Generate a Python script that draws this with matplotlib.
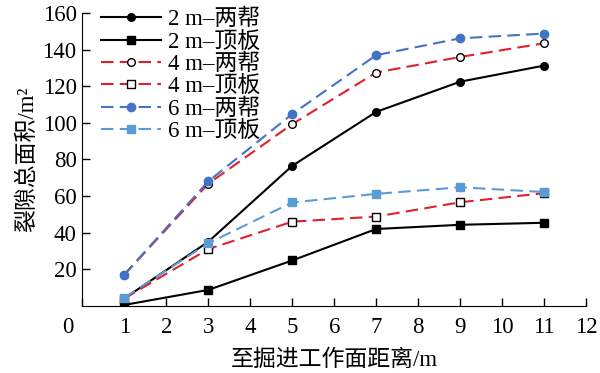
import matplotlib
matplotlib.use("Agg")
import matplotlib.pyplot as plt
from matplotlib.transforms import ScaledTranslation

plt.rcParams['font.family'] = ['Liberation Serif', 'Noto Sans CJK SC']
plt.rcParams['axes.unicode_minus'] = False

x = [1, 3, 5, 7, 9, 11]
s2_bang = [4, 35, 76.5, 106, 122.5, 131.3]
s2_ding = [0.5, 8.7, 24.8, 42, 44.3, 45.4]
s4_bang = [17, 66.7, 99.3, 127.5, 136, 143.5]
s4_ding = [4, 31, 46, 48.8, 56.6, 61.6]
s6_bang = [17, 68, 104.8, 137, 146.2, 148.8]
s6_ding = [4.5, 34.2, 56.5, 61.2, 64.8, 62.2]

labels = ["2 m–两帮", "2 m–顶板", "4 m–两帮", "4 m–顶板", "6 m–两帮", "6 m–顶板"]

red = "#E0202E"
blue = "#4472C4"
lblue = "#5B9BD5"
dash = (0, (6, 3))
fs = 16.5

fig = plt.figure(figsize=(6, 3.73), dpi=100)
ax = fig.add_axes([0.137, 0.18, 0.84, 0.785])

ax.plot(x, s2_bang, color="black", lw=1.5, marker="o", ms=5.5, label=labels[0])
ax.plot(x, s2_ding, color="black", lw=1.5, marker="s", ms=5.5, label=labels[1])
ax.plot(x, s4_bang, color=red, lw=1.5, ls=dash, marker="o", ms=5.5,
        mfc="white", mec="black", mew=1.0, label=labels[2])
ax.plot(x, s4_ding, color=red, lw=1.5, ls=dash, marker="s", ms=5.5,
        mfc="white", mec="black", mew=1.0, label=labels[3])
ax.plot(x, s6_bang, color=blue, lw=1.5, ls=dash, marker="o", ms=6, label=labels[4])
ax.plot(x, s6_ding, color=lblue, lw=1.5, ls=dash, marker="s", ms=6, label=labels[5])

ax.set_xlim(0, 12)
ax.set_ylim(0, 160)
ax.set_xticks(range(0, 13))
ax.set_yticks(range(20, 161, 20))
ax.spines["top"].set_visible(False)
ax.spines["right"].set_visible(False)
ax.tick_params(direction="in", length=6, width=1, labelsize=fs)
ax.tick_params(axis="x", pad=8)
ax.tick_params(axis="y", pad=4)
# shift the "0" label left like the original
lab0 = ax.get_xticklabels()[0]
lab0.set_transform(lab0.get_transform() + ScaledTranslation(-0.14, 0, fig.dpi_scale_trans))

ax.set_xlabel("至掘进工作面距离/m", fontsize=fs, labelpad=8)
ax.set_ylabel("裂隙总面积/m²", fontsize=fs, labelpad=3)

ax.legend(loc="upper left", bbox_to_anchor=(0.02, 1.045), frameon=False, fontsize=fs,
          handlelength=2.6, handletextpad=0.3, labelspacing=0.05, borderaxespad=0)

fig.savefig("out.png", dpi=100)
